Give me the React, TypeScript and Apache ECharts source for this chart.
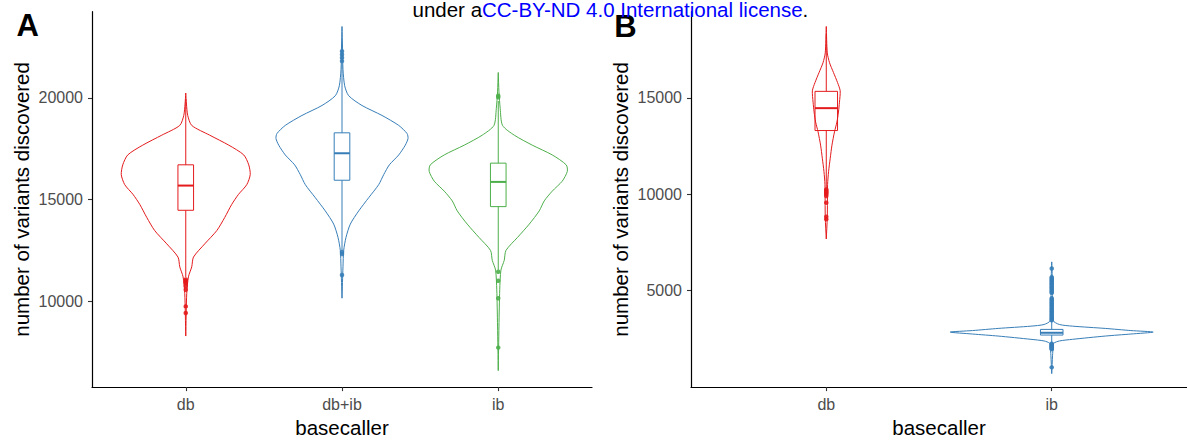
import React, { useEffect, useRef } from "react";
import * as echarts from "echarts";

const FONT = "'Liberation Sans', Arial, Helvetica, sans-serif";

// Panel A: variants per sample, by basecaller
const categoriesA = ["db", "db+ib", "ib"];
const colorsA = ["#E41A1C", "#377EB8", "#4DAF4A"];

// Panel B
const categoriesB = ["db", "ib"];
const colorsB = ["#E41A1C", "#377EB8"];

// Y tick positions
const ticksA = [10000, 15000, 20000];
const ticksB = [5000, 10000, 15000];

// Violin outlines as [variants, relative density] (1 = widest violin of the panel)
const densityA_db = [
  [8300, 0], [10400, 0.014], [11210, 0.038], [11700, 0.085], [12180, 0.11],
  [12830, 0.27], [13480, 0.441], [14130, 0.555], [14770, 0.654], [15260, 0.75],
  [15740, 0.868], [16230, 0.917], [16710, 0.896], [17200, 0.825], [17680, 0.612],
  [18170, 0.341], [18650, 0.085], [19140, 0.028], [19700, 0.01], [20240, 0],
];
const densityA_dbib = [
  [10160, 0], [11700, 0.014], [12510, 0.024], [13150, 0.057], [13800, 0.118],
  [14450, 0.238], [15100, 0.38], [15740, 0.522], [16230, 0.593], [16710, 0.673],
  [17200, 0.807], [17680, 0.9], [18010, 0.939], [18250, 0.925], [18650, 0.807],
  [19140, 0.569], [19630, 0.284], [20110, 0.095], [20600, 0.038], [21400, 0.014],
  [22400, 0.008], [23510, 0],
];
const densityA_ib = [
  [6600, 0], [8790, 0.01], [10570, 0.021], [11540, 0.038], [12020, 0.085],
  [12510, 0.11], [13150, 0.275], [13800, 0.441], [14450, 0.583], [14940, 0.654],
  [15420, 0.768], [15910, 0.91], [16390, 0.982], [16710, 0.967], [17200, 0.768],
  [17680, 0.484], [18170, 0.228], [18650, 0.061], [19470, 0.028], [20300, 0.01],
  [21250, 0],
];
const densityB_db = [
  [7680, 0], [8800, 0.01], [10500, 0.013], [11190, 0.023], [11870, 0.039],
  [12550, 0.056], [13240, 0.081], [13750, 0.105], [14270, 0.12], [14780, 0.13],
  [15370, 0.137], [15800, 0.111], [16320, 0.071], [16830, 0.032], [17340, 0.01],
  [18710, 0],
];
const densityB_ib = [
  [690, 0], [1620, 0.008], [2130, 0.015], [2270, 0.02], [2385, 0.075],
  [2470, 0.205], [2640, 0.528], [2745, 0.78], [2846, 1.0], [2925, 0.78],
  [3036, 0.528], [3154, 0.205], [3241, 0.075], [3450, 0.012], [4200, 0.008],
  [5700, 0.005], [6490, 0],
];

// Box statistics: [lower whisker, Q1, median, Q3, upper whisker]
const boxesA = [
  [11200, 14480, 15694, 16714, 19950],
  [12480, 15956, 17282, 18286, 21700],
  [11550, 14660, 15874, 16796, 19850],
];
const boxesB = [
  [10300, 13308, 14470, 15342, 18300],
  [2260, 2692, 2810, 2985, 3420],
];

// Outlying samples
const outliersA_db = [11083, 11020, 10971, 10900, 10757, 10575, 9757, 9432];
const outliersA_dbib = [22296, 22136, 21975, 21811, 12427, 12330, 11297];
const outliersA_ib = [20112, 20030, 11456, 11019, 10160, 7733];
const outliersB_db = [10246, 10180, 10120, 10077, 10000, 9906, 9564, 8831, 8709];
const outliersB_ib = [
  6144, 5700, 5640, 5590, 5520, 5470, 5410, 5350, 5300, 5230, 5170, 5120,
  5050, 4990, 4930, 4880, 4600, 4540, 4470, 4410, 4350, 4290, 4230, 4170,
  4100, 4040, 3980, 3920, 3860, 3790, 3730, 3670, 3610, 3560, 3500, 3460,
  2240, 2200, 2150, 2110, 2070, 2030, 1990, 1960, 1015,
];

const VIOLIN_HALF = 0.45; // half width of the widest violin, in category units
const BOX_HALF = 0.05;

function violinSeries(axis: number, profiles: number[][][], colors: string[]) {
  return {
    type: "custom",
    xAxisIndex: axis,
    yAxisIndex: axis,
    silent: true,
    data: profiles.map((p, i) => [i + 1, p[0][0]]),
    renderItem: (params: any, api: any) => {
      const i = params.dataIndex;
      const x = i + 1;
      const prof = profiles[i];
      const right = prof.map(([v, d]) => api.coord([x + d * VIOLIN_HALF, v]));
      const left = prof
        .slice()
        .reverse()
        .map(([v, d]) => api.coord([x - d * VIOLIN_HALF, v]));
      return {
        type: "polygon",
        shape: { points: right.concat(left), smooth: 0.25 },
        style: { fill: "none", stroke: colors[i], lineWidth: 1 },
      };
    },
  };
}

function boxSeries(axis: number, stats: number[][], colors: string[]) {
  return {
    type: "custom",
    xAxisIndex: axis,
    yAxisIndex: axis,
    silent: true,
    data: stats.map((s, i) => [i + 1, s[2]]),
    renderItem: (params: any, api: any) => {
      const i = params.dataIndex;
      const x = i + 1;
      const [lo, q1, med, q3, hi] = stats[i];
      const c = colors[i];
      const p = (xx: number, v: number) => api.coord([xx, v]);
      const tl = p(x - BOX_HALF, q3);
      const br = p(x + BOX_HALF, q1);
      const ml = p(x - BOX_HALF, med);
      const mr = p(x + BOX_HALF, med);
      const wTop = p(x, hi);
      const bTop = p(x, q3);
      const wBot = p(x, lo);
      const bBot = p(x, q1);
      const line = (a: number[], b: number[], w: number) => ({
        type: "line",
        shape: { x1: a[0], y1: a[1], x2: b[0], y2: b[1] },
        style: { stroke: c, lineWidth: w },
      });
      return {
        type: "group",
        children: [
          line(wTop, bTop, 1),
          line(bBot, wBot, 1),
          {
            type: "rect",
            shape: { x: tl[0], y: tl[1], width: br[0] - tl[0], height: br[1] - tl[1] },
            style: { fill: "none", stroke: c, lineWidth: 1 },
          },
          line(ml, mr, 2),
        ],
      };
    },
  };
}

function outlierSeries(axis: number, x: number, values: number[], color: string) {
  return {
    type: "scatter",
    xAxisIndex: axis,
    yAxisIndex: axis,
    silent: true,
    symbol: "circle",
    symbolSize: 4.5,
    itemStyle: { color, opacity: 0.9 },
    data: values.map((v) => [x, v]),
  };
}

function xAxis(gridIndex: number, cats: string[]) {
  const ticks = cats.map((_, i) => i + 1);
  return {
    type: "value",
    gridIndex,
    min: 0.4,
    max: cats.length + 0.6,
    name: "basecaller",
    nameLocation: "middle",
    nameGap: 28,
    nameTextStyle: { fontFamily: FONT, fontSize: 20.5, color: "#000" },
    axisLine: { show: true, onZero: false, lineStyle: { color: "#000", width: 1.2 } },
    axisTick: { show: true, length: 4, customValues: ticks, lineStyle: { color: "#333", width: 1.1 } },
    axisLabel: {
      customValues: ticks,
      margin: 9,
      fontFamily: FONT,
      fontSize: 16,
      color: "#4D4D4D",
      formatter: (v: number) => cats[Math.round(v) - 1] ?? "",
    },
    splitLine: { show: false },
  };
}

function yAxis(gridIndex: number, min: number, max: number, ticks: number[]) {
  return {
    type: "value",
    gridIndex,
    min,
    max,
    name: "number of variants discovered",
    nameLocation: "middle",
    nameGap: 60,
    nameTextStyle: { fontFamily: FONT, fontSize: 20.5, color: "#000" },
    axisLine: { show: true, onZero: false, lineStyle: { color: "#000", width: 1.2 } },
    axisTick: { show: true, length: 4, customValues: ticks, lineStyle: { color: "#333", width: 1.1 } },
    axisLabel: {
      customValues: ticks,
      margin: 9,
      fontFamily: FONT,
      fontSize: 16,
      color: "#4D4D4D",
      formatter: (v: number) => String(Math.round(v)),
    },
    splitLine: { show: false },
  };
}

export default function App() {
  const ref = useRef<HTMLDivElement>(null);

  useEffect(() => {
    if (!ref.current) return;
    const chart = echarts.init(ref.current, undefined, { renderer: "svg" });
    chart.setOption({
      animation: false,
      backgroundColor: "#fff",
      grid: [
        { left: 92, top: 11.7, width: 500, height: 380 },
        { left: 691, top: 11.7, width: 499.7, height: 380 },
      ],
      xAxis: [xAxis(0, categoriesA), xAxis(1, categoriesB)],
      yAxis: [yAxis(0, 5791, 24238, ticksA), yAxis(1, -10, 19477, ticksB)],
      series: [
        violinSeries(0, [densityA_db, densityA_dbib, densityA_ib], colorsA),
        boxSeries(0, boxesA, colorsA),
        outlierSeries(0, 1, outliersA_db, colorsA[0]),
        outlierSeries(0, 2, outliersA_dbib, colorsA[1]),
        outlierSeries(0, 3, outliersA_ib, colorsA[2]),
        violinSeries(1, [densityB_db, densityB_ib], colorsB),
        boxSeries(1, boxesB, colorsB),
        outlierSeries(1, 1, outliersB_db, colorsB[0]),
        outlierSeries(1, 2, outliersB_ib, colorsB[1]),
      ],
      graphic: [
        {
          type: "text",
          x: 27.6,
          y: 25,
          style: {
            text: "A",
            fontFamily: FONT,
            fontWeight: "bold",
            fontSize: 31,
            fill: "#000",
            align: "center",
            verticalAlign: "middle",
          },
        },
        {
          type: "text",
          x: 625.5,
          y: 26,
          style: {
            text: "B",
            fontFamily: FONT,
            fontWeight: "bold",
            fontSize: 31,
            fill: "#000",
            align: "center",
            verticalAlign: "middle",
          },
        },
        {
          type: "text",
          x: 412.5,
          y: 9.5,
          z: 10,
          style: {
            text: "{k|under a}{l|CC-BY-ND 4.0 International license}{k|.}",
            align: "left",
            verticalAlign: "middle",
            rich: {
              k: { fontFamily: FONT, fontSize: 20.5, fill: "#000", lineHeight: 19 },
              l: { fontFamily: FONT, fontSize: 20.5, fill: "#0000FF", lineHeight: 19 },
            },
          },
        },
      ],
    });
    return () => chart.dispose();
  }, []);

  return (
    <div
      ref={ref}
      style={{ position: "fixed", left: 0, top: 0, width: 1187, height: 443, background: "#fff" }}
    />
  );
}
